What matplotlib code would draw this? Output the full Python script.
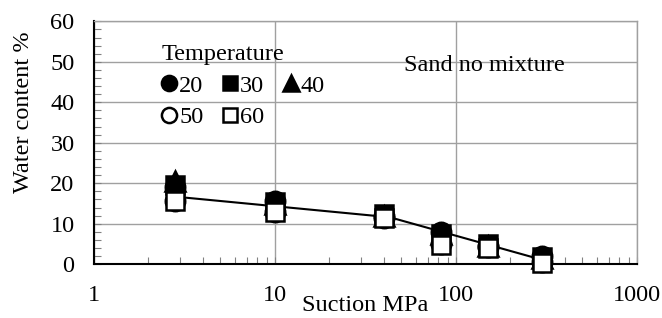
"""Water content vs suction for sand (no mixture) at several temperatures."""

import matplotlib.pyplot as plt
import numpy as np
from matplotlib.ticker import FixedLocator, NullFormatter

plt.rcParams["font.family"] = ["Liberation Serif", "DejaVu Serif"]

# Data
suction = [2.8, 10, 40, 83, 150, 300]
temp_20 = [19.0, 15.6, 12.0, 8.0, 4.5, 2.0]
temp_30 = [19.5, 15.4, 12.4, 7.5, 5.0, 1.8]
temp_40 = [20.5, 15.0, 12.0, 7.5, 4.5, 1.5]
temp_50 = [15.5, 13.0, 11.5, 5.0, 4.2, 0.5]
temp_60 = [15.5, 12.8, 11.4, 4.8, 4.1, 0.2]

# Two fitted trend segments
fit1_x = [2.8, 40]
fit1_y = [16.7, 11.75]
fit2_x = [46.5, 273]
fit2_y = [11.2, 1.6]

x_ticks = [1, 10, 100, 1000]
x_tick_labels = ["1", "10", "100", "1000"]
y_ticks = [0, 10, 20, 30, 40, 50, 60]

FS = 17.5

fig = plt.figure(figsize=(6.62, 3.18), dpi=100)
ax = fig.add_axes([0.142, 0.169, 0.820, 0.764])

grey = "#a0a0a0"
ms = 14
mew = 1.8

ax.plot(fit1_x, fit1_y, color="black", lw=1.5, zorder=3)
ax.plot(fit2_x, fit2_y, color="black", lw=1.5, zorder=3)

marker_kw = dict(ls="none", mec="black", mew=mew, clip_on=False)
h20, = ax.plot(suction, temp_20, marker="o", ms=ms, mfc="black",
               label="20", zorder=4, **marker_kw)
h30, = ax.plot(suction, temp_30, marker="s", ms=ms - 1, mfc="black",
               label="30", zorder=4, **marker_kw)
h40, = ax.plot(suction, temp_40, marker="^", ms=ms, mfc="black",
               label="40", zorder=4, **marker_kw)
h50, = ax.plot(suction, temp_50, marker="o", ms=ms, mfc="white",
               label="50", zorder=5, **marker_kw)
h60, = ax.plot(suction, temp_60, marker="s", ms=ms - 1, mfc="white",
               label="60", zorder=5, **marker_kw)

ax.set_xscale("log")
ax.set_xlim(1, 1000)
ax.set_ylim(0, 60)
ax.xaxis.set_major_locator(FixedLocator(x_ticks))
ax.set_xticklabels(x_tick_labels)
ax.xaxis.set_minor_locator(FixedLocator(
    [m * d for d in [1, 10, 100] for m in range(2, 10)]))
ax.xaxis.set_minor_formatter(NullFormatter())
ax.set_yticks(y_ticks)
ax.yaxis.set_minor_locator(FixedLocator(np.arange(0, 61, 2)))

ax.grid(True, which="major", color=grey, lw=1)
ax.set_axisbelow(True)

ax.tick_params(which="both", direction="in", color="#808080", width=0.8,
               labelsize=FS)
ax.tick_params(axis="x", which="major", length=5, pad=15)
ax.tick_params(axis="x", which="minor", length=5)
ax.tick_params(axis="y", which="major", length=5, pad=14)
ax.tick_params(axis="y", which="minor", length=5)

for side in ["left", "bottom"]:
    ax.spines[side].set_color("black")
    ax.spines[side].set_linewidth(1.5)
for side in ["top", "right"]:
    ax.spines[side].set_color(grey)
    ax.spines[side].set_linewidth(1)

ax.set_xlabel("Suction MPa", fontsize=FS)
ax.xaxis.set_label_coords(0.5, -0.128)
ax.set_ylabel("Water content %", fontsize=FS)
ax.yaxis.set_label_coords(-0.11, 0.627)

ax.text(0.72, 0.82, "Sand no mixture", transform=ax.transAxes,
        fontsize=FS, ha="center", va="center")

leg = ax.legend([h20, h50, h30, h60, h40], ["20", "50", "30", "60", "40"],
                ncol=3, title="Temperature", title_fontsize=FS, fontsize=FS,
                frameon=False, loc="upper left", bbox_to_anchor=(0.094, 0.977),
                markerscale=0.78, handlelength=0.6, handletextpad=0.1,
                columnspacing=0.8, labelspacing=0.4, alignment="left",
                borderpad=0.2)

fig.savefig("out.png", dpi=100)
